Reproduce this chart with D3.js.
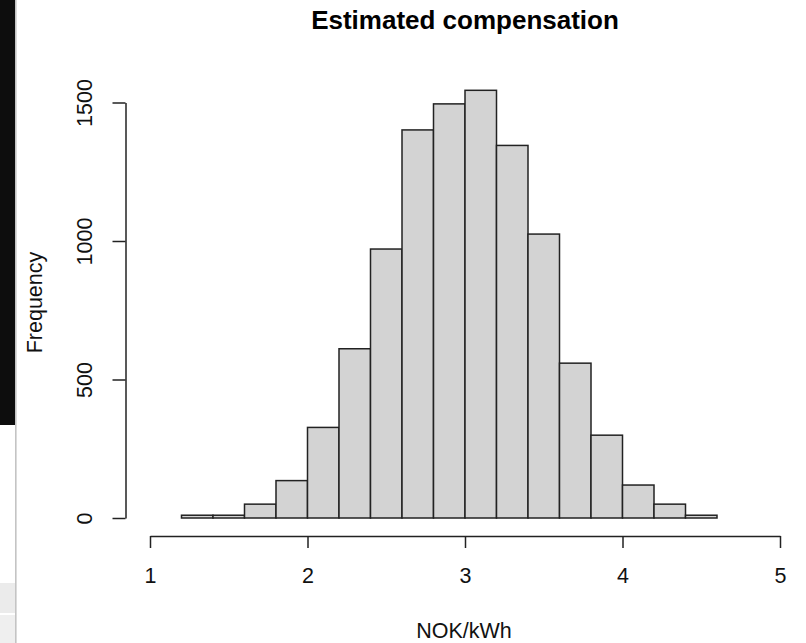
<!DOCTYPE html>
<html>
<head>
<meta charset="utf-8">
<script src="https://cdn.jsdelivr.net/npm/d3@7"></script>
<style>
  body { margin: 0; background: #fff; }
  svg { display: block; font-family: "Liberation Sans", Arial, sans-serif; }
</style>
</head>
<body>
<div id="chart"></div>
<script>
//DATA
const title = 'Estimated compensation';
const xLabel = 'NOK/kWh';
const yLabel = 'Frequency';
const breaks = [1.0, 1.2, 1.4, 1.6, 1.8, 2.0, 2.2, 2.4, 2.6, 2.8, 3.0, 3.2, 3.4, 3.6, 3.8, 4.0, 4.2, 4.4, 4.6, 4.8, 5.0];
const counts = [0, 10, 10, 50, 135, 327, 611, 971, 1401, 1495, 1544, 1345, 1025, 559, 299, 119, 50, 10, 0, 0];
const xTicks = [1, 2, 3, 4, 5];
const yTicks = [0, 500, 1000, 1500];

//SIZES
const width = 806;
const height = 643;
const font = '"Liberation Sans", Arial, sans-serif';

const svg = d3.select('#chart').append('svg')
    .attr('width', width)
    .attr('height', height);

//WINDOW EDGE (black strip + gray bands on the left of the screenshot)
svg.append('rect').attr('x', 0).attr('y', 0).attr('width', 15).attr('height', 425).attr('fill', '#0d0d0d');
svg.append('rect').attr('x', 0).attr('y', 583).attr('width', 15).attr('height', 30).attr('fill', '#ebebeb');
svg.append('rect').attr('x', 0).attr('y', 615).attr('width', 15).attr('height', 28).attr('fill', '#efefef');
svg.append('rect').attr('x', 15).attr('y', 0).attr('width', 1.6).attr('height', height).attr('fill', '#c4c4c4');

//SCALES
const x = d3.scaleLinear().domain([1, 5]).range([150, 780]);
const y = d3.scaleLinear().domain([0, 1500]).range([518, 102.5]);

//BARS
const bins = counts.map((c, i) => ({ x0: breaks[i], x1: breaks[i + 1], n: c }));
svg.append('g').selectAll('rect').data(bins)
    .enter().append('rect')
    .attr('x', d => x(d.x0))
    .attr('y', d => y(d.n))
    .attr('width', d => x(d.x1) - x(d.x0))
    .attr('height', d => y(0) - y(d.n))
    .attr('fill', '#d3d3d3')
    .attr('stroke', '#222')
    .attr('stroke-width', 1.5);

//X AXIS
const gx = svg.append('g')
    .attr('transform', 'translate(0,536)')
    .call(d3.axisBottom(x).tickValues(xTicks).tickSize(12).tickSizeOuter(0).tickFormat(d3.format('d')));
gx.selectAll('text')
    .attr('y', 47).attr('dy', 0)
    .attr('font-size', 21.5).attr('font-family', font).attr('fill', '#111');

//Y AXIS
const gy = svg.append('g')
    .attr('transform', 'translate(125.5,0)')
    .call(d3.axisLeft(y).tickValues(yTicks).tickSize(13).tickSizeOuter(0).tickFormat(d3.format('d')));
gy.selectAll('text')
    .attr('transform', 'rotate(-90)')
    .attr('x', 0)
    .attr('y', -33.5)
    .attr('dy', 0)
    .style('text-anchor', 'middle')
    .attr('font-size', 21.5).attr('font-family', font)
    .attr('fill', '#111');

svg.selectAll('.domain, .tick line').attr('stroke', '#222').attr('stroke-width', 1.5);

//TITLES
svg.append('text')
    .attr('x', 465).attr('y', 29)
    .attr('text-anchor', 'middle')
    .attr('font-size', 26).attr('font-weight', 'bold')
    .text(title);

svg.append('text')
    .attr('x', 464).attr('y', 638)
    .attr('text-anchor', 'middle')
    .attr('font-size', 21.5).attr('fill', '#111')
    .text(xLabel);

svg.append('text')
    .attr('transform', 'translate(41.5,302.5) rotate(-90)')
    .attr('text-anchor', 'middle')
    .attr('font-size', 21.5).attr('fill', '#111')
    .text(yLabel);
</script>
</body>
</html>
